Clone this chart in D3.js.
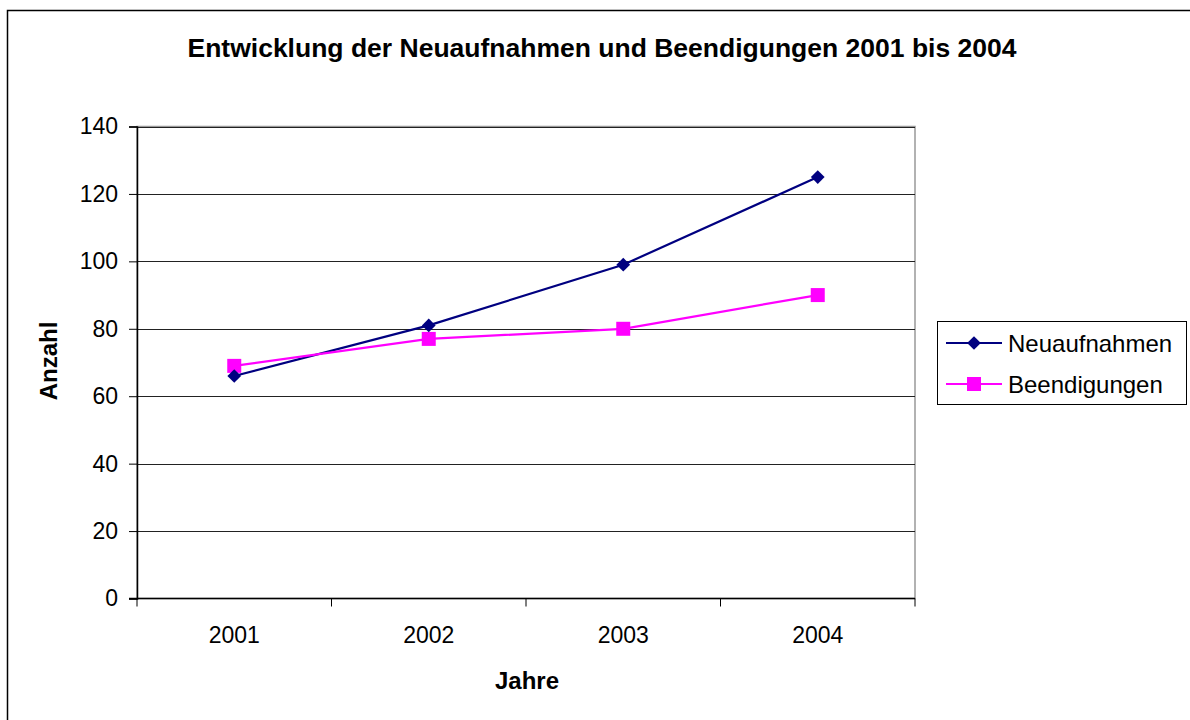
<!DOCTYPE html>
<html>
<head>
<meta charset="utf-8">
<script src="https://cdn.jsdelivr.net/npm/d3@7"></script>
<style>
  html, body { margin: 0; padding: 0; background: #fff; }
  svg { display: block; font-family: "Liberation Sans", Arial, sans-serif; }
</style>
</head>
<body>
<svg id="chart" width="1190" height="720"></svg>
<script>
// Chart data
const years = ["2001", "2002", "2003", "2004"];
const neuaufnahmen = [66, 81, 99, 125];
const beendigungen = [69, 77, 80, 90];
const yTicks = [0, 20, 40, 60, 80, 100, 120, 140];
const seriesNames = ["Neuaufnahmen", "Beendigungen"];
const seriesColors = ["#000080", "#ff00ff"];

const svg = d3.select("#chart");

// Outer frame
svg.append("rect")
  .attr("x", 7.5).attr("y", 10.5)
  .attr("width", 1200).attr("height", 800)
  .attr("fill", "#fff").attr("stroke", "#000").attr("stroke-width", 1.5);

const plot = { left: 137, right: 915, top: 126.5, bottom: 598.5 };

const x = d3.scaleBand().domain(years).range([plot.left, plot.right]);
const y = d3.scaleLinear().domain([0, 140]).range([plot.bottom, plot.top]);

// Plot area border (grey)
svg.append("rect")
  .attr("x", plot.left).attr("y", plot.top)
  .attr("width", plot.right - plot.left).attr("height", plot.bottom - plot.top)
  .attr("fill", "#fff").attr("stroke", "#999").attr("stroke-width", 1.5);

// Horizontal gridlines
svg.append("g").selectAll("line")
  .data(yTicks.filter(d => d > 0))
  .join("line")
  .attr("x1", plot.left).attr("x2", plot.right)
  .attr("y1", d => Math.round(y(d)) + 0.5).attr("y2", d => Math.round(y(d)) + 0.5)
  .attr("stroke", "#222").attr("stroke-width", 1);

// Y axis
const yAxis = svg.append("g")
  .attr("transform", `translate(${plot.left},0)`)
  .call(d3.axisLeft(y).tickValues(yTicks).tickSize(8).tickPadding(11));
yAxis.select(".domain").attr("stroke", "#000").attr("stroke-width", 1.5);
yAxis.selectAll(".tick line").attr("stroke", "#000").attr("stroke-width", 1);
yAxis.selectAll(".tick text")
  .attr("font-size", 23).attr("fill", "#000")
  .attr("font-family", "Liberation Sans, Arial, sans-serif");

// X axis with tick marks between categories
const xAxis = svg.append("g")
  .attr("transform", `translate(0,${plot.bottom})`);
xAxis.append("line")
  .attr("x1", plot.left - 8).attr("x2", plot.right)
  .attr("y1", 0).attr("y2", 0)
  .attr("stroke", "#000").attr("stroke-width", 1.5);
const boundaries = years.map(d => x(d)).concat([plot.right]);
xAxis.selectAll("line.tk")
  .data(boundaries)
  .join("line").attr("class", "tk")
  .attr("x1", d => d).attr("x2", d => d)
  .attr("y1", 0).attr("y2", 8)
  .attr("stroke", "#000").attr("stroke-width", 1);
xAxis.selectAll("text")
  .data(years)
  .join("text")
  .attr("x", d => x(d) + x.bandwidth() / 2)
  .attr("y", 44)
  .attr("text-anchor", "middle")
  .attr("font-size", 23)
  .text(d => d);

// Series lines and markers
const cx = d => x(d) + x.bandwidth() / 2;
const line = d3.line().x(d => cx(d.year)).y(d => y(d.value));
const allSeries = [neuaufnahmen, beendigungen].map((vals, i) => ({
  name: seriesNames[i],
  color: seriesColors[i],
  points: years.map((yr, j) => ({ year: yr, value: vals[j] }))
}));

const diamond = d3.symbol().type(d3.symbolDiamond2).size(120);
const sq = 14;

allSeries.forEach(s => {
  svg.append("path")
    .attr("d", line(s.points))
    .attr("fill", "none").attr("stroke", s.color).attr("stroke-width", 2.2);
});
// Beendigungen markers (squares)
svg.append("g").selectAll("rect")
  .data(allSeries[1].points)
  .join("rect")
  .attr("x", d => cx(d.year) - sq / 2).attr("y", d => y(d.value) - sq / 2)
  .attr("width", sq).attr("height", sq)
  .attr("fill", seriesColors[1]);
// Neuaufnahmen markers (diamonds)
svg.append("g").selectAll("path")
  .data(allSeries[0].points)
  .join("path")
  .attr("transform", d => `translate(${cx(d.year)},${y(d.value)})`)
  .attr("d", diamond)
  .attr("fill", seriesColors[0]);

// Title
svg.append("text")
  .attr("x", 602).attr("y", 57)
  .attr("text-anchor", "middle")
  .attr("font-size", 26.5).attr("font-weight", "bold")
  .text("Entwicklung der Neuaufnahmen und Beendigungen 2001 bis 2004");

// Axis titles
svg.append("text")
  .attr("x", 527).attr("y", 689)
  .attr("text-anchor", "middle")
  .attr("font-size", 24).attr("font-weight", "bold")
  .text("Jahre");
svg.append("text")
  .attr("transform", "translate(57,361) rotate(-90)")
  .attr("text-anchor", "middle")
  .attr("font-size", 24).attr("font-weight", "bold")
  .text("Anzahl");

// Legend
const legend = svg.append("g");
legend.append("rect")
  .attr("x", 937.5).attr("y", 321.5)
  .attr("width", 249).attr("height", 83)
  .attr("fill", "#fff").attr("stroke", "#000").attr("stroke-width", 1);
const legendRows = [343, 384];
allSeries.forEach((s, i) => {
  const ly = legendRows[i];
  legend.append("line")
    .attr("x1", 946).attr("x2", 1002).attr("y1", ly).attr("y2", ly)
    .attr("stroke", s.color).attr("stroke-width", 2.2);
  if (i === 0) {
    legend.append("path")
      .attr("transform", `translate(974,${ly})`)
      .attr("d", diamond).attr("fill", s.color);
  } else {
    legend.append("rect")
      .attr("x", 974 - sq / 2).attr("y", ly - sq / 2).attr("width", sq).attr("height", sq)
      .attr("fill", s.color);
  }
  legend.append("text")
    .attr("x", 1008).attr("y", ly + 8.5)
    .attr("font-size", 24)
    .text(s.name);
});
</script>
</body>
</html>
